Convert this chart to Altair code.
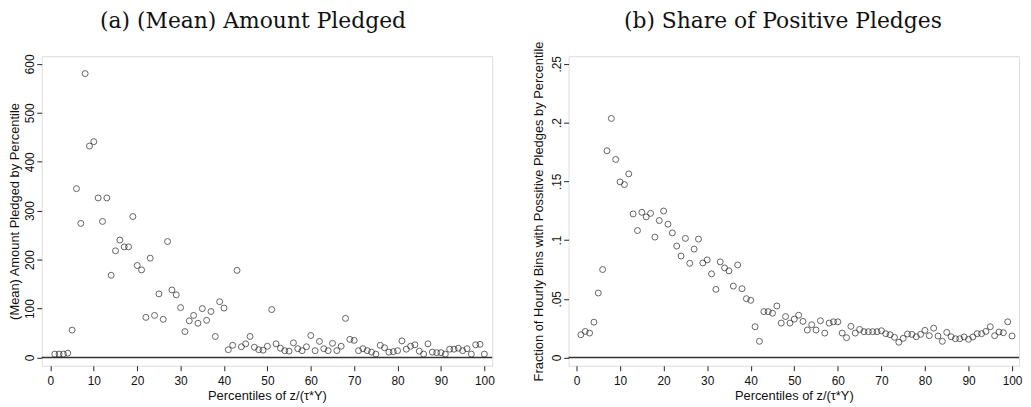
import altair as alt
import pandas as pd

percentiles = list(range(1, 101))

mean_pledged = [
    7, 7, 7, 9, 56, 345, 274, 580, 432, 441,
    326, 278, 326, 168, 218, 240, 226, 226, 288, 188,
    179, 82, 203, 86, 130, 78, 237, 138, 128, 102,
    53, 75, 86, 70, 100, 76, 94, 43, 114, 101,
    16, 25, 178, 22, 28, 43, 21, 16, 15, 23,
    98, 28, 19, 14, 13, 30, 18, 14, 22, 45,
    14, 33, 18, 14, 29, 14, 23, 80, 37, 35,
    14, 18, 14, 11, 7, 25, 20, 11, 12, 14,
    34, 17, 23, 26, 13, 7, 28, 11, 10, 10,
    7, 17, 17, 19, 14, 18, 7, 26, 27, 7,
]

share_positive = [
    0.0194, 0.0222, 0.0208, 0.0301, 0.0549, 0.0749, 0.1760, 0.2035, 0.1686, 0.1495,
    0.1472, 0.1563, 0.1222, 0.1081, 0.1236, 0.1197, 0.1227, 0.1025, 0.1166, 0.1247,
    0.1135, 0.1061, 0.0949, 0.0864, 0.1014, 0.0802, 0.0923, 0.1008, 0.0805, 0.0831,
    0.0712, 0.0580, 0.0814, 0.0763, 0.0738, 0.0608, 0.0788, 0.0586, 0.0501, 0.0487,
    0.0262, 0.0138, 0.0391, 0.0391, 0.0377, 0.0439, 0.0293, 0.0349, 0.0293, 0.0327,
    0.0360, 0.0307, 0.0234, 0.0279, 0.0234, 0.0313, 0.0208, 0.0293, 0.0304, 0.0304,
    0.0208, 0.0169, 0.0265, 0.0208, 0.0239, 0.0220, 0.0220, 0.0220, 0.0220, 0.0228,
    0.0203, 0.0194, 0.0172, 0.0130, 0.0163, 0.0200, 0.0197, 0.0177, 0.0197, 0.0231,
    0.0186, 0.0250, 0.0183, 0.0138, 0.0214, 0.0177, 0.0160, 0.0160, 0.0175, 0.0155,
    0.0175, 0.0203, 0.0203, 0.0222, 0.0262, 0.0186, 0.0217, 0.0211, 0.0304, 0.0183,
]

x_ticks = [0, 10, 20, 30, 40, 50, 60, 70, 80, 90, 100]
ya_ticks = [0, 100, 200, 300, 400, 500, 600]
yb_ticks = [0, 0.05, 0.10, 0.15, 0.20, 0.25]

panel_titles = ["(a) (Mean) Amount Pledged", "(b) Share of Positive Pledges"]
y_titles = ["(Mean) Amount Pledged by Percentile",
            "Fraction of Hourly Bins with Possitive Pledges by Percentile"]
x_title = "Percentiles of z/(\u03c4*Y)"

df_a = pd.DataFrame({"pct": percentiles, "val": mean_pledged})
df_b = pd.DataFrame({"pct": percentiles, "val": share_positive})
zero_df = pd.DataFrame({"z": [0]})

INK = "#222222"
W, H = 454, 312


def panel(df, title, ytitle, xdom, ydom, yvals, label_expr, label_pad, title_x, head_x):
    xax = alt.Axis(values=x_ticks, title=x_title, grid=False,
                   domain=False, tickSize=5, tickColor=INK, labelColor="#111",
                   labelFont="Liberation Sans", labelFontSize=12, labelPadding=5,
                   titleFont="Liberation Sans", titleFontSize=13, titleFontWeight="normal",
                   titleColor="#111", titlePadding=3)
    yax = alt.Axis(values=yvals, title=ytitle, grid=False, domain=False, tickSize=5,
                   tickColor=INK, labelColor="#111", labelFont="Liberation Sans",
                   labelFontSize=12, labelAngle=270, labelAlign="center",
                   labelBaseline="middle", labelPadding=label_pad, labelExpr=label_expr,
                   titleFont="Liberation Sans", titleFontSize=13, titleFontWeight="normal",
                   titleColor="#111", titleAngle=270, titleAlign="center",
                   titleBaseline="middle", titleX=title_x, titleY=H / 2)
    pts = alt.Chart(df).mark_point(shape="circle", filled=False, size=36,
                                   strokeWidth=1.0, color=INK).encode(
        x=alt.X("pct:Q", scale=alt.Scale(domain=xdom, nice=False, zero=False), axis=xax),
        y=alt.Y("val:Q", scale=alt.Scale(domain=ydom, nice=False, zero=False), axis=yax),
    )
    rule = alt.Chart(zero_df).mark_rule(color="#333", strokeWidth=1.5).encode(y="z:Q")
    head = alt.Chart(pd.DataFrame({"t": [title]})).mark_text(
        font="DejaVu Serif", fontSize=22, color="#111", align="center",
        baseline="alphabetic", clip=False,
    ).encode(text="t:N", x=alt.value(head_x), y=alt.value(-28))
    return alt.layer(rule, pts, head).properties(width=W, height=H)


pa = panel(df_a, panel_titles[0], y_titles[0],
           [-2.0, 101.8], [-16.8, 615.6], ya_ticks, "datum.label", 7, -27, 213)
pb = panel(df_b, panel_titles[1], y_titles[1],
           [-1.82, 101.6], [-0.007, 0.2565], yb_ticks,
           "replace(format(datum.value, '.2~f'), /^0\\./, '.')", 7, -30, 216)

chart = alt.hconcat(pa, pb, spacing=77, bounds="flush").resolve_scale(
    x="independent", y="independent"
).configure_view(stroke="#333", strokeWidth=1.3).configure(
    background="white", padding={"left": 0, "top": 0, "right": 0, "bottom": 0}
)

chart.save("out.html", embed_options={"renderer": "svg", "actions": False})
